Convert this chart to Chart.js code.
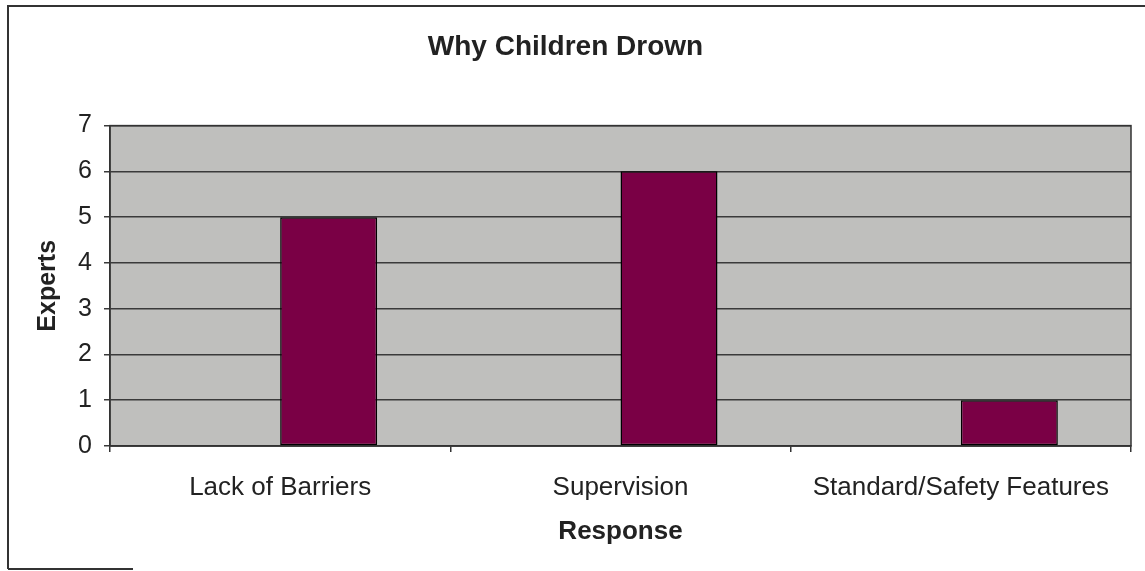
<!DOCTYPE html>
<html>
<head>
<meta charset="utf-8">
<script src="https://cdn.jsdelivr.net/npm/chart.js@4/dist/chart.umd.min.js"></script>
<style>
  html, body { margin: 0; padding: 0; background: #fff; }
  #wrap { width: 1145px; height: 571px; }
</style>
</head>
<body>
<div id="wrap"><canvas id="c" width="1145" height="571"></canvas></div>
<script>
const categories = ['Lack of Barriers', 'Supervision', 'Standard/Safety Features'];
const emptySeries = [null, null, null];
const experts = [5, 6, 1];
const yTicks = [0, 1, 2, 3, 4, 5, 6, 7];
const titleText = 'Why Children Drown';
const xTitle = 'Response';
const yTitle = 'Experts';

const FONT = '"Liberation Sans", Arial, sans-serif';
const TEXT = '#222';

const framePlugin = {
  id: 'frame',
  beforeDraw(chart) {
    const ctx = chart.ctx;
    const a = chart.chartArea;
    ctx.save();
    ctx.fillStyle = '#fff';
    ctx.fillRect(0, 0, chart.width, chart.height);
    ctx.strokeStyle = '#333';
    ctx.lineWidth = 2;
    ctx.beginPath();
    ctx.moveTo(8, 569); ctx.lineTo(8, 6); ctx.lineTo(1145, 6);
    ctx.moveTo(8, 569); ctx.lineTo(133, 569);
    ctx.stroke();
    ctx.fillStyle = '#bfbfbd';
    ctx.fillRect(a.left, a.top, a.right - a.left, a.bottom - a.top);
    ctx.restore();
  },
  afterDraw(chart) {
    const ctx = chart.ctx;
    const a = chart.chartArea;
    ctx.save();
    ctx.strokeStyle = '#333';
    ctx.lineWidth = 1.5;
    ctx.strokeRect(a.left, a.top, a.right - a.left, a.bottom - a.top);
    ctx.restore();
  }
};

new Chart(document.getElementById('c'), {
  type: 'bar',
  data: {
    labels: categories,
    datasets: [
      { label: 'Series 1', data: emptySeries, backgroundColor: '#7a0045', borderColor: '#000', borderWidth: 1.5 },
      { label: 'Experts', data: experts, backgroundColor: '#7a0045', borderColor: '#000', borderWidth: 1.5,
        borderSkipped: false }
    ]
  },
  options: {
    responsive: false,
    animation: false,
    devicePixelRatio: 1,
    categoryPercentage: 0.57,
    barPercentage: 1.0,
    layout: { padding: { left: 0, right: 14, top: 0, bottom: 0 } },
    plugins: {
      legend: { display: false },
      tooltip: { enabled: false },
      title: {
        display: true,
        text: titleText,
        color: TEXT,
        font: { family: FONT, size: 28, weight: 'bold' },
        padding: { top: 30, bottom: 62 }
      }
    },
    scales: {
      x: {
        grid: { display: true, drawOnChartArea: false, drawTicks: true, tickLength: 6, color: '#333', lineWidth: 1.5, offset: true },
        border: { display: true, color: '#333', width: 1.5 },
        ticks: { color: TEXT, font: { family: FONT, size: 26 }, padding: 20, maxRotation: 0, autoSkip: false },
        title: { display: true, text: xTitle, color: TEXT, font: { family: FONT, size: 26, weight: 'bold' }, padding: { top: 0, bottom: 24 } },
        afterFit(scale) { scale.height = 125; }
      },
      y: {
        min: 0,
        max: 7,
        afterBuildTicks(scale) { scale.ticks = yTicks.map(v => ({ value: v })); },
        grid: { color: '#3a3a3a', lineWidth: 1.5, drawTicks: true, tickLength: 6 },
        border: { display: true, color: '#333', width: 1.5 },
        ticks: { color: TEXT, font: { family: FONT, size: 25 }, padding: 12 },
        title: { display: true, text: yTitle, color: TEXT, font: { family: FONT, size: 25, weight: 'bold' }, padding: { top: 33, bottom: 0 } },
        afterFit(scale) { scale.width = 110; }
      }
    }
  },
  plugins: [framePlugin]
});
</script>
</body>
</html>
